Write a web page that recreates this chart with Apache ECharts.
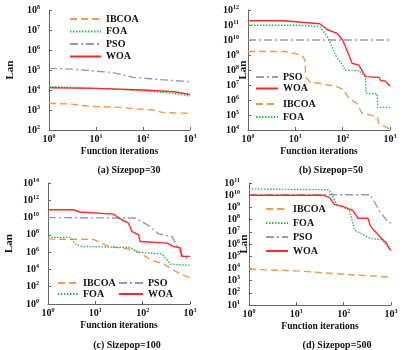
<!DOCTYPE html>
<html>
<head>
<meta charset="utf-8">
<script src="https://cdn.jsdelivr.net/npm/echarts@6/dist/echarts.min.js"></script>
<style>
  html, body { margin: 0; padding: 0; background: #fff; }
  #main { width: 412px; height: 350px; }
</style>
</head>
<body>
<div id="main"></div>
<script>
// (a) Sizepop=30
var aIbcoa = [[1,2150],[2.8,2000],[7.5,1500],[27,1400],[73,1130],[166,1000],[270,740],[1000,680]];
var aFoa = [[1,14800],[3.3,13500],[10,12000],[32,10700],[100,8900],[320,7400],[1000,5000]];
var aPso = [[1,120000],[3.3,110000],[7.5,93000],[23,74000],[62,43000],[166,35000],[1000,26000]];
var aWoa = [[1,13000],[10,12000],[100,10000],[450,8200],[1000,6000]];

// (b) Sizepop=50
var bIbcoa = [[1,1.7e9],[6,1.7e9],[13.6,1e9],[16,4.7e8],[16.5,3.6e7],[20,1.7e7],[76,7.8e6],[105,4.7e6],[134,1.3e6],[200,6e5],[257,1.3e5],[537,7.8e4],[580,2.8e4],[1000,1.1e4]];
var bFoa = [[1,9.6e10],[12.6,9.6e10],[33,7.8e10],[50,1.3e10],[70,1e9],[100,2.1e8],[110,1e8],[219,9e7],[303,3.6e7],[310,2.8e6],[537,2.6e6],[550,3.2e5],[1000,3.2e5]];
var bPso = [[1,1e10],[1000,1e10]];
var bWoa = [[1,1.9e11],[5.5,1.9e11],[33,1.2e11],[47,5e10],[76,2.8e10],[100,1e10],[123,2.1e9],[158,2.8e8],[219,2.1e8],[303,3.6e7],[590,3.2e7],[640,2e7],[800,1.8e7],[1000,8.5e6]];

// (c) Sizepop=100
var cIbcoa = [[1,3.2e7],[9,3e7],[13.6,1.1e7],[19,4.6e6],[64,1.9e6],[89,8e5],[145,1.3e5],[280,4.2e4],[500,5.9e3],[1000,1e3]];
var cFoa = [[1,5.1e7],[2.9,5.1e7],[4,7.2e6],[5.1,4.6e6],[55,3.5e6],[76,1e6],[257,6e5],[290,2.5e5],[390,4.2e4],[1000,2.9e4]];
var cPso = [[1,1e10],[36,8.9e9],[70,8.9e9],[124,1.5e9],[219,1.3e8],[420,6.3e7],[537,4.6e6],[720,3.2e5],[1000,1.3e5]];
var cWoa = [[1,8e10],[3.4,8e10],[4.7,4.4e10],[24,2.5e10],[36,5.6e9],[50,2.3e9],[59,2.5e8],[82,1e8],[88,1.7e7],[330,1.1e7],[443,4.6e6],[630,3e6],[660,3.2e5],[1000,3.2e5]];

// (d) Sizepop=500
var dIbcoa = [[1,8.5e3],[10,6.3e3],[100,3.3e3],[1000,1.9e3]];
var dFoa = [[1,3.2e10],[47,2.8e10],[55,1.5e10],[70,1.7e9],[132,6.3e8],[170,1.4e7],[355,3e6],[630,2.2e6],[795,8.5e5],[1000,2.8e5]];
var dPso = [[1,1.1e10],[355,1.1e10],[420,4.3e9],[575,4.7e8],[795,9.8e7],[1000,5.1e7]];
var dWoa = [[1,1e10],[36,1e10],[50,6.6e9],[64,1.7e9],[97,1.2e9],[158,5.4e8],[200,1.3e8],[325,1.3e8],[370,2.8e7],[447,1.2e7],[575,4.2e6],[795,1.2e6],[930,4e5],[1000,3.3e5]];

var captions = ['(a) Sizepop=30', '(b) Sizepop=50', '(c) Sizepop=100', '(d) Sizepop=500'];
var yMin = [1e2, 1e4, 1e0, 1e1];
var yMax = [1e8, 1e12, 1e14, 1e11];

var FONT = "'Liberation Serif', 'Times New Roman', serif";
var styles = {
    IBCOA: { color: '#f39a4c', type: [7, 4] },
    FOA: { color: '#2db85a', type: [1.5, 1.5] },
    PSO: { color: '#a091c8', type: [8, 3, 2, 3] },
    WOA: { color: '#ff2a2a', type: 'solid' }
};

var myChart = echarts.init(document.getElementById('main'));

var grids = [
    { left: 49, top: 10, width: 141, height: 120 },
    { left: 248, top: 10, width: 142, height: 120 },
    { left: 48, top: 183, width: 142, height: 121 },
    { left: 249, top: 183, width: 142, height: 122 }
];

function expLabel(v) {
    var e = Math.round(Math.log(v) / Math.LN10);
    return '{b|10}{s|' + e + '}';
}
var richTxt = {
    b: { fontFamily: FONT, fontWeight: 'bold', fontSize: 10, color: '#111', lineHeight: 12 },
    s: { fontFamily: FONT, fontWeight: 'bold', fontSize: 6, color: '#111', verticalAlign: 'top', lineHeight: 12, padding: [0, 0, 4, 0] }
};
var axisLine = { lineStyle: { color: '#666', width: 1 } };

var xAxes = [], yAxes = [], titles = [];
for (var i = 0; i < 4; i++) {
    xAxes.push({
        type: 'log', gridIndex: i, logBase: 10, min: 1, max: 1000,
        name: 'Function iterations', nameLocation: 'middle', nameGap: 17,
        nameMoveOverlap: false,
        nameTextStyle: { fontFamily: FONT, fontWeight: 'bold', fontSize: 9.5, color: '#111' },
        axisLine: axisLine,
        axisTick: { inside: true, length: 3, lineStyle: { color: '#666' } },
        axisLabel: { formatter: expLabel, rich: richTxt, margin: 3 },
        splitLine: { show: false }, minorTick: { show: false }
    });
    yAxes.push({
        type: 'log', gridIndex: i, logBase: 10, min: yMin[i], max: yMax[i],
        interval: i === 2 ? 2 : 1,
        name: 'Lan', nameLocation: 'middle', nameRotate: 90,
        nameGap: (i % 2 === 0) ? 33 : -1,
        nameMoveOverlap: false,
        nameTextStyle: { fontFamily: FONT, fontWeight: 'bold', fontSize: 11, color: '#111' },
        axisLine: axisLine,
        axisTick: { inside: true, length: 3, lineStyle: { color: '#666' } },
        axisLabel: { formatter: expLabel, rich: richTxt, margin: 9 },
        splitLine: { show: false }
    });
    titles.push({
        text: captions[i],
        left: [124, 326, 122, 332][i], top: [160, 160, 335, 335][i], textAlign: 'center',
        textStyle: { fontFamily: FONT, fontWeight: 'bold', fontSize: 10, color: '#111' }
    });
}

function mk(name, data, idx) {
    return {
        name: name, type: 'line', xAxisIndex: idx, yAxisIndex: idx,
        data: data, symbol: 'none', animation: false,
        lineStyle: { color: styles[name].color, type: styles[name].type, width: 1.4 },
        itemStyle: { color: styles[name].color }
    };
}

var series = [
    mk('IBCOA', aIbcoa, 0), mk('FOA', aFoa, 0), mk('PSO', aPso, 0), mk('WOA', aWoa, 0),
    mk('PSO', bPso, 1), mk('IBCOA', bIbcoa, 1), mk('FOA', bFoa, 1), mk('WOA', bWoa, 1),
    mk('PSO', cPso, 2), mk('IBCOA', cIbcoa, 2), mk('FOA', cFoa, 2), mk('WOA', cWoa, 2),
    mk('PSO', dPso, 3), mk('IBCOA', dIbcoa, 3), mk('FOA', dFoa, 3), mk('WOA', dWoa, 3)
];

var legText = { fontFamily: FONT, fontWeight: 'bold', fontSize: 10, color: '#111' };
function leg(names, left, top, w, gap) {
    return {
        data: names, orient: 'vertical', left: left, top: top,
        itemWidth: w, itemHeight: 10, itemGap: gap, padding: 0,
        itemStyle: { opacity: 0 },
        textStyle: legText, selectedMode: false
    };
}

var option = {
    animation: false,
    title: titles,
    grid: grids,
    xAxis: xAxes,
    yAxis: yAxes,
    legend: [
        leg(['IBCOA', 'FOA', 'PSO', 'WOA'], 69, 14, 31, 2.5),
        leg(['PSO', 'WOA'], 255, 72, 22, 1.5),
        leg(['IBCOA', 'FOA'], 255, 99, 22, 3),
        leg(['IBCOA', 'FOA'], 57, 278, 20, 1),
        leg(['PSO', 'WOA'], 118, 278, 24, 1),
        leg(['IBCOA', 'FOA', 'PSO', 'WOA'], 265, 204, 22, 4)
    ],
    series: series
};
myChart.setOption(option);
</script>
</body>
</html>
